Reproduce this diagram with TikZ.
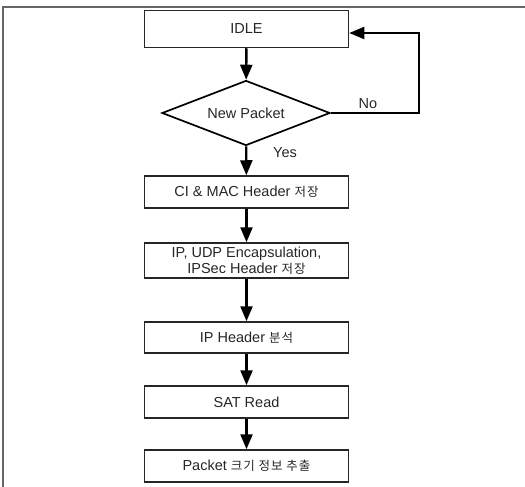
\documentclass[tikz,border=0pt]{standalone}
\usepackage{fontspec}
\setmainfont{Liberation Sans}
\newfontfamily\krfont[LetterSpace=8]{Noto Sans CJK KR}
\newcommand{\kr}[1]{{\krfont\fontsize{12.5}{14}\selectfont #1}}
\usetikzlibrary{shapes.geometric,arrows.meta}
\begin{document}
\begin{tikzpicture}[x=1pt,y=-1pt,
  box/.style={draw=black!85, line width=1.5pt, minimum width=204pt, inner sep=0pt, align=center, font=\fontsize{14.5}{16.5}\selectfont, text=black!85},
  decision/.style={draw=black, line width=1.7pt, shape=diamond, minimum width=168pt, minimum height=65pt, aspect=2.6, inner sep=0pt, font=\fontsize{14.5}{15}\selectfont, text=black!85},
  flow/.style={line width=2.4pt, -{Triangle[length=15pt,width=12pt]}},
  lbl/.style={font=\fontsize{14.5}{15}\selectfont, text=black!85},
  frame/.style={draw=black!60, line width=1.2pt}
]
\useasboundingbox (0,0) rectangle (525,487);
\coordinate (ftl) at (3,7);
\coordinate (ftr) at (525,7);
\coordinate (fbl) at (3,487);
\draw[frame] (ftr) -- (ftl) -- (fbl);

\node[box, minimum height=37pt] (idle) at (246.5,29) {IDLE};
\node[decision] (dec) at (246,113) {New Packet};
\node[box, minimum height=32pt] (ci) at (246.5,192) {CI \& MAC Header \kr{저장}};
\node[box, minimum height=35pt] (ip) at (246.5,260.5) {IP, UDP Encapsulation,\\IPSec Header \kr{저장}};
\node[box, minimum height=31pt] (iph) at (246.5,337.5) {IP Header \kr{분석}};
\node[box, minimum height=32pt] (sat) at (246.5,402) {SAT Read};
\node[box, minimum height=32pt] (pkt) at (246.5,466) {Packet \kr{크기 정보 추출}};

\draw[flow] (idle) -- (dec);
\draw[flow] (dec) -- (ci);
\draw[flow] (ci) -- (ip);
\draw[flow] (ip) -- (iph);
\draw[flow] (iph) -- (sat);
\draw[flow] (sat) -- (pkt);

\coordinate (nc) at (419,113);
\draw[flow, line width=2pt] (dec.east) -- (nc) |- ([yshift=-4pt]idle.east);

\node[lbl] (no) at (368,104) {No};
\node[lbl] (yes) at (285,153) {Yes};
\end{tikzpicture}
\end{document}
